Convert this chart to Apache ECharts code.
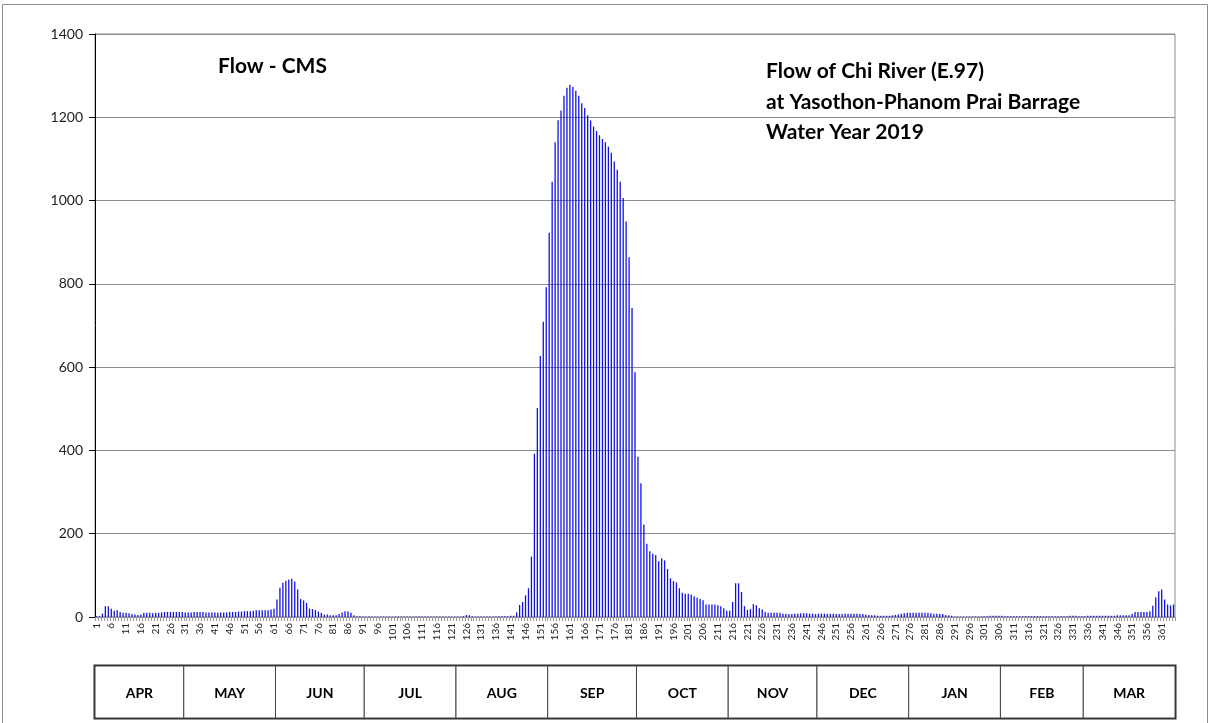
<!DOCTYPE html>
<html>
<head>
<meta charset="utf-8">
<script src="https://cdn.jsdelivr.net/npm/echarts@6/dist/echarts.min.js"></script>
<style>
  html, body { margin: 0; padding: 0; background: #fff; }
  #chart { width: 1210px; height: 723px; }
</style>
</head>
<body>
<div id="chart"></div>
<script>
// Daily flow (m³/s) of the Chi River at station E.97, water year 2019 (Apr–Mar)
const flowApr = [2,2,8,26,26,20,15,16,12,10,10,9,7,6,5,6,10,10,10,9,10,10,11,12,12,12,12,12,12,12];
const flowMay = [11,11,11,12,12,12,12,11,11,11,11,10,11,11,11,12,12,12,13,13,14,14,14,15,16,16,16,16,16,18,20];
const flowJun = [42,70,82,87,90,92,85,66,43,40,34,20,19,17,13,10,6,6,4,4,4,7,11,14,13,10,4,2,2,1];
const flowJul = [1,1,1,1,1,1,1,1,1,1,1,1,1,1,1,1,1,1,1,1,1,1,1,1,1,1,1,1,1,1,1];
const flowAug = [1,1,2,5,4,2,1,1,1,1,1,1,1,1,2,2,2,2,3,3,11,29,36,52,69,145,392,502,627,709,792];
const flowSep = [923,1045,1140,1193,1216,1252,1271,1278,1273,1264,1252,1234,1222,1205,1192,1178,1167,1157,1148,1140,1129,1115,1094,1074,1045,1006,950,864,742,588];
const flowOct = [385,321,222,176,158,152,149,134,141,136,115,93,86,83,69,58,56,56,54,50,46,43,40,30,30,30,30,28,26,21,15];
const flowNov = [15,36,81,81,60,26,17,19,31,28,21,18,12,10,10,10,10,10,8,8,7,7,8,8,9,9,9,8,8,7];
const flowDec = [8,8,8,8,8,8,7,7,7,8,8,8,8,8,7,7,6,5,4,4,3,3,3,3,3,4,5,6,8,9,10];
const flowJan = [10,10,10,10,10,10,10,9,8,8,7,7,5,4,3,1,1,1,1,1,1,1,1,1,1,2,2,3,3,3,3];
const flowFeb = [3,2,2,2,2,2,2,2,2,2,2,2,2,2,2,2,2,2,2,2,2,2,2,3,3,3,2,2];
const flowMar = [2,3,3,3,3,3,3,3,3,3,3,4,4,4,4,4,7,12,12,12,12,12,14,27,47,62,66,42,30,28,30];

const monthNames = ['APR','MAY','JUN','JUL','AUG','SEP','OCT','NOV','DEC','JAN','FEB','MAR'];
const monthFlows = [flowApr, flowMay, flowJun, flowJul, flowAug, flowSep, flowOct, flowNov, flowDec, flowJan, flowFeb, flowMar];

const yTicks = { min: 0, max: 1400, step: 200 };

// Build the daily series and the day-number categories
const flow = [].concat(...monthFlows);
const days = flow.map((_, i) => String(i + 1));

// Month strip: each month spans its own number of days
const monthSpans = [];
let startDay = 0;
monthFlows.forEach((m, i) => {
  monthSpans.push([startDay, startDay + m.length, monthNames[i]]);
  startDay += m.length;
});

const FONT = "Lato, 'Open Sans', sans-serif";

const chart = echarts.init(document.getElementById('chart'), null, { renderer: 'canvas' });

chart.setOption({
  backgroundColor: '#fff',
  animation: false,
  textStyle: { fontFamily: FONT },
  title: [
    {
      text: 'Flow - CMS',
      left: 213, top: 46,
      textStyle: { fontSize: 21, fontWeight: 'bold', color: '#000', lineHeight: 30, fontFamily: FONT }
    },
    {
      text: 'Flow of Chi River (E.97)\nat Yasothon-Phanom Prai Barrage\nWater Year 2019',
      left: 761, top: 51,
      textStyle: { fontSize: 21, fontWeight: 'bold', color: '#000', lineHeight: 30.5, fontFamily: FONT }
    }
  ],
  graphic: [
    {
      type: 'rect',
      shape: { x: 2.5, y: 4.5, width: 1205, height: 740 },
      style: { fill: null, stroke: '#8c8c8c', lineWidth: 1 },
      silent: true
    }
  ],
  grid: [
    {
      left: 95, right: 35, top: 34, bottom: 106,
      show: true, borderColor: '#8c8c8c', borderWidth: 1, backgroundColor: 'transparent'
    },
    {
      left: 95, right: 35, top: 666, height: 52,
      show: true, borderColor: '#2b2b2b', borderWidth: 3, backgroundColor: '#fff'
    }
  ],
  xAxis: [
    {
      type: 'category',
      gridIndex: 0,
      data: days,
      axisLine: { show: true, lineStyle: { color: '#8c8c8c', width: 1 } },
      axisTick: { show: true, interval: 0, length: 4, lineStyle: { color: '#9a9a9a' } },
      axisLabel: {
        interval: 4, rotate: 90, fontSize: 10, color: '#222', margin: 6, fontFamily: FONT
      },
      splitLine: { show: false }
    },
    {
      type: 'value',
      gridIndex: 1,
      min: 0, max: flow.length,
      show: false
    }
  ],
  yAxis: [
    {
      type: 'value',
      gridIndex: 0,
      min: yTicks.min, max: yTicks.max, interval: yTicks.step,
      axisLine: { show: true, lineStyle: { color: '#000', width: 1 } },
      axisTick: { show: true, length: 6, lineStyle: { color: '#000' } },
      axisLabel: {
        fontSize: 14, color: '#222', margin: 12, fontFamily: FONT,
        formatter: v => String(v)
      },
      splitLine: { show: true, lineStyle: { color: '#8c8c8c', width: 1 } }
    },
    {
      type: 'value',
      gridIndex: 1,
      min: 0, max: 1,
      show: false
    }
  ],
  series: [
    {
      type: 'bar',
      xAxisIndex: 0, yAxisIndex: 0,
      data: flow,
      barWidth: 1.3,
      itemStyle: { color: '#1212e0' },
      silent: true
    },
    {
      type: 'custom',
      xAxisIndex: 1, yAxisIndex: 1,
      data: monthSpans,
      silent: true,
      renderItem: function (params, api) {
        const p0 = api.coord([api.value(0), 1]);
        const p1 = api.coord([api.value(1), 0]);
        return {
          type: 'group',
          children: [
            {
              type: 'rect',
              shape: { x: p0[0], y: p0[1], width: p1[0] - p0[0], height: p1[1] - p0[1] },
              style: { fill: '#fff', stroke: '#444', lineWidth: 1 }
            },
            {
              type: 'text',
              style: {
                text: monthSpans[params.dataIndex][2],
                x: (p0[0] + p1[0]) / 2,
                y: (p0[1] + p1[1]) / 2 + 1,
                align: 'center', verticalAlign: 'middle',
                font: 'bold 14px ' + FONT,
                fill: '#000'
              }
            }
          ]
        };
      }
    }
  ]
});
</script>
</body>
</html>
